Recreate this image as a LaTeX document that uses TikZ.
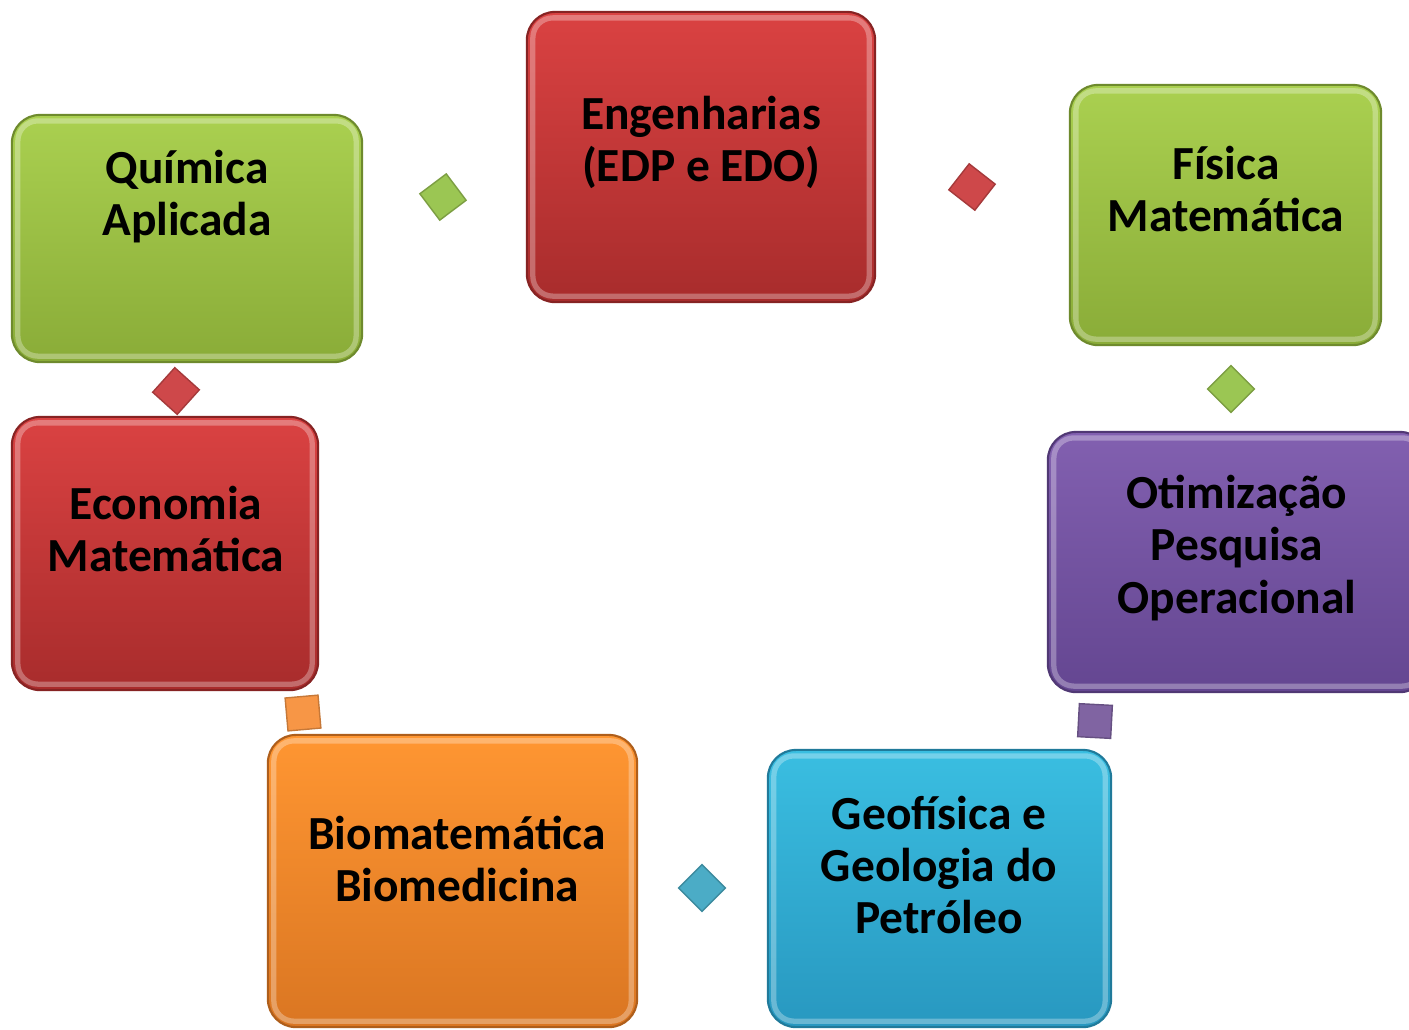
\documentclass[tikz,border=0pt]{standalone}
\usepackage{fontspec}
\setmainfont{Carlito}

\definecolor{grnTop}{RGB}{170,208,80}
\definecolor{grnBot}{RGB}{138,172,56}
\definecolor{redTop}{RGB}{218,66,66}
\definecolor{redBot}{RGB}{168,44,44}
\definecolor{purTop}{RGB}{130,96,176}
\definecolor{purBot}{RGB}{100,70,145}
\definecolor{bluTop}{RGB}{58,190,225}
\definecolor{bluBot}{RGB}{40,152,192}
\definecolor{orgTop}{RGB}{255,150,50}
\definecolor{orgBot}{RGB}{218,118,34}
\definecolor{grnMark}{RGB}{155,198,83}
\definecolor{redMark}{RGB}{206,72,74}
\definecolor{purMark}{RGB}{128,100,162}
\definecolor{bluMark}{RGB}{75,172,198}
\definecolor{orgMark}{RGB}{247,150,70}

\tikzset{
  area/.style 2 args={draw=#2!80!black, line width=0.6pt, rounded corners=0.28cm,
    top color=#1, bottom color=#2, inner sep=0pt},
  label/.style={font=\fontsize{13.5}{14.8}\selectfont\bfseries, align=center, inner sep=0pt},
  mark/.style={draw=#1!80!black, fill=#1, line width=0.4pt, minimum size=0.33cm, inner sep=0pt}
}

\begin{document}
\begin{tikzpicture}[x=0.01cm, y=-0.01cm]
  \useasboundingbox[fill=white] (0,0) rectangle (1409,1029);
  % boxes
  \node[area={grnTop}{grnBot}, minimum width=3.5cm, minimum height=2.47cm] (qui) at (187,238.5) {};
  \node[area={redTop}{redBot}, minimum width=3.48cm, minimum height=2.9cm] (eng) at (701,157) {};
  \node[area={grnTop}{grnBot}, minimum width=3.11cm, minimum height=2.6cm] (fis) at (1225.5,215) {};
  \node[area={purTop}{purBot}, minimum width=3.8cm, minimum height=2.6cm] (oti) at (1238,562) {};
  \node[area={bluTop}{bluBot}, minimum width=3.43cm, minimum height=2.77cm] (geo) at (939.5,888.5) {};
  \node[area={orgTop}{orgBot}, minimum width=3.69cm, minimum height=2.92cm] (bio) at (452.5,881) {};
  \node[area={redTop}{redBot}, minimum width=3.06cm, minimum height=2.73cm] (eco) at (165,553.5) {};
  % soft bevel lines
  \draw[white, opacity=0.3, line width=1.5pt, rounded corners=0.2cm] ([shift={(7,7)}]qui.north west) rectangle ([shift={(-7,-7)}]qui.south east);
  \draw[white, opacity=0.3, line width=1.5pt, rounded corners=0.2cm] ([shift={(7,7)}]eng.north west) rectangle ([shift={(-7,-7)}]eng.south east);
  \draw[white, opacity=0.3, line width=1.5pt, rounded corners=0.2cm] ([shift={(7,7)}]fis.north west) rectangle ([shift={(-7,-7)}]fis.south east);
  \draw[white, opacity=0.3, line width=1.5pt, rounded corners=0.2cm] ([shift={(7,7)}]oti.north west) rectangle ([shift={(-7,-7)}]oti.south east);
  \draw[white, opacity=0.3, line width=1.5pt, rounded corners=0.2cm] ([shift={(7,7)}]geo.north west) rectangle ([shift={(-7,-7)}]geo.south east);
  \draw[white, opacity=0.3, line width=1.5pt, rounded corners=0.2cm] ([shift={(7,7)}]bio.north west) rectangle ([shift={(-7,-7)}]bio.south east);
  \draw[white, opacity=0.3, line width=1.5pt, rounded corners=0.2cm] ([shift={(7,7)}]eco.north west) rectangle ([shift={(-7,-7)}]eco.south east);
  % texts
  \node[label] (qui-t) at (187,197) {Química\\Aplicada};
  \node[label] (eng-t) at (701,142) {Engenharias\\(EDP e EDO)};
  \node[label] (fis-t) at (1226,189) {Física\\Matemática};
  \node[label] (oti-t) at (1237,548) {Otimização\\Pesquisa\\Operacional};
  \node[label] (geo-t) at (939,865) {Geofísica e\\Geologia do\\Petróleo};
  \node[label] (bio-t) at (457,859) {Biomatemática\\Biomedicina};
  \node[label] (eco-t) at (166,529) {Economia\\Matemática};
  % markers between boxes
  \node[mark=grnMark, rotate=37] (m1) at (443,197) {};
  \node[mark=redMark, rotate=52] (m2) at (972,187) {};
  \node[mark=grnMark, rotate=45] (m3) at (1231,389) {};
  \node[mark=purMark, rotate=-3] (m4) at (1095,721) {};
  \node[mark=bluMark, rotate=45] (m5) at (702,888) {};
  \node[mark=orgMark, rotate=5] (m6) at (303,713) {};
  \node[mark=redMark, rotate=48] (m7) at (176,391) {};
\end{tikzpicture}
\end{document}
